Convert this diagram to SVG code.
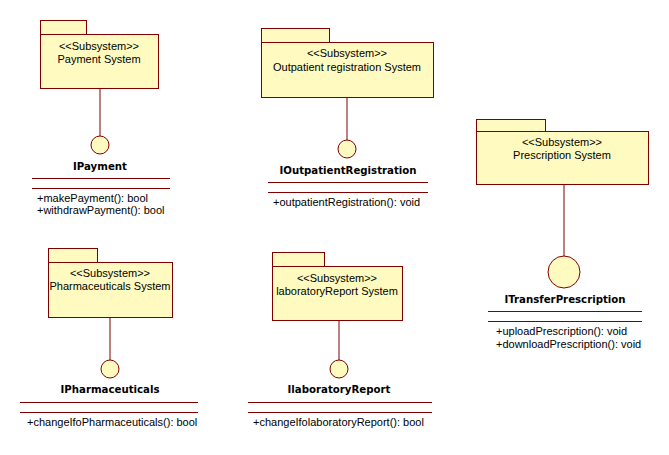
<svg xmlns="http://www.w3.org/2000/svg" width="669" height="455" viewBox="0 0 669 455">
<style>
.pk{fill:#fffbc0;stroke:#800000;stroke-width:1}
.ln{stroke:#800000;stroke-width:1;fill:none}
.t{font-family:"Liberation Sans",Arial,sans-serif;font-size:11px;fill:#000}
.c{text-anchor:middle}
.b{font-family:"DejaVu Sans",Verdana,sans-serif;font-size:10.2px;font-weight:bold;text-anchor:middle;fill:#000}
</style>
<rect width="669" height="455" fill="#fff"/>
<g id="connectors">
<line class="ln" x1="100" y1="88" x2="100" y2="136"/>
<line class="ln" x1="347" y1="97" x2="347" y2="140"/>
<line class="ln" x1="564" y1="184" x2="564" y2="256"/>
<line class="ln" x1="110" y1="317" x2="110" y2="360"/>
<line class="ln" x1="339" y1="320" x2="339" y2="360"/>
</g>
<g id="payment-system">
<rect class="pk" x="40.5" y="20.5" width="46" height="14"/>
<rect class="pk" x="40.5" y="34.5" width="118" height="54"/>
<text class="t c" x="99" y="50">&lt;&lt;Subsystem&gt;&gt;</text>
<text class="t c" x="99" y="63">Payment System</text>
</g>
<g id="IPayment">
<circle class="pk" cx="100" cy="145" r="9"/>
<text class="b" x="100" y="170">IPayment</text>
<line class="ln" x1="32" y1="178.5" x2="170" y2="178.5"/>
<line class="ln" x1="32" y1="188.5" x2="170" y2="188.5"/>
<text class="t" x="37" y="202">+makePayment(): bool</text>
<text class="t" x="37" y="214">+withdrawPayment(): bool</text>
</g>
<g id="outpatient-system">
<rect class="pk" x="261.5" y="28.5" width="68" height="14"/>
<rect class="pk" x="261.5" y="42.5" width="172" height="55"/>
<text class="t c" x="347" y="57">&lt;&lt;Subsystem&gt;&gt;</text>
<text class="t c" x="347" y="71">Outpatient registration System</text>
</g>
<g id="IOutpatientRegistration">
<circle class="pk" cx="347" cy="149" r="9"/>
<text class="b" x="348" y="174">IOutpatientRegistration</text>
<line class="ln" x1="268" y1="182.5" x2="428" y2="182.5"/>
<line class="ln" x1="268" y1="192.5" x2="428" y2="192.5"/>
<text class="t" x="273" y="206">+outpatientRegistration(): void</text>
</g>
<g id="prescription-system">
<rect class="pk" x="476.5" y="119.5" width="69" height="12"/>
<rect class="pk" x="476.5" y="131.5" width="172" height="53"/>
<text class="t c" x="562" y="146">&lt;&lt;Subsystem&gt;&gt;</text>
<text class="t c" x="562" y="159">Prescription System</text>
</g>
<g id="ITransferPrescription">
<circle class="pk" cx="564" cy="272" r="16"/>
<text class="b" x="565" y="303">ITransferPrescription</text>
<line class="ln" x1="488" y1="311.5" x2="642" y2="311.5"/>
<line class="ln" x1="488" y1="321.5" x2="642" y2="321.5"/>
<text class="t" x="496" y="335">+uploadPrescription(): void</text>
<text class="t" x="496" y="348">+downloadPrescription(): void</text>
</g>
<g id="pharmaceuticals-system">
<rect class="pk" x="48.5" y="248.5" width="49" height="14"/>
<rect class="pk" x="48.5" y="262.5" width="124" height="55"/>
<text class="t c" x="110" y="277">&lt;&lt;Subsystem&gt;&gt;</text>
<text class="t c" x="110" y="290">Pharmaceuticals System</text>
</g>
<g id="IPharmaceuticals">
<circle class="pk" cx="110" cy="369" r="9"/>
<text class="b" x="110" y="393">IPharmaceuticals</text>
<line class="ln" x1="20" y1="402.5" x2="198" y2="402.5"/>
<line class="ln" x1="20" y1="412.5" x2="198" y2="412.5"/>
<text class="t" x="27" y="426">+changeIfoPharmaceuticals(): bool</text>
</g>
<g id="laboratory-system">
<rect class="pk" x="272.5" y="252.5" width="52" height="14"/>
<rect class="pk" x="272.5" y="266.5" width="130" height="54"/>
<text class="t c" x="337" y="282">&lt;&lt;Subsystem&gt;&gt;</text>
<text class="t c" x="337" y="295">laboratoryReport System</text>
</g>
<g id="IlaboratoryReport">
<circle class="pk" cx="339" cy="369" r="9"/>
<text class="b" x="339" y="393">IlaboratoryReport</text>
<line class="ln" x1="248" y1="402.5" x2="432" y2="402.5"/>
<line class="ln" x1="248" y1="412.5" x2="432" y2="412.5"/>
<text class="t" x="253" y="426">+changeIfolaboratoryReport(): bool</text>
</g>
</svg>
